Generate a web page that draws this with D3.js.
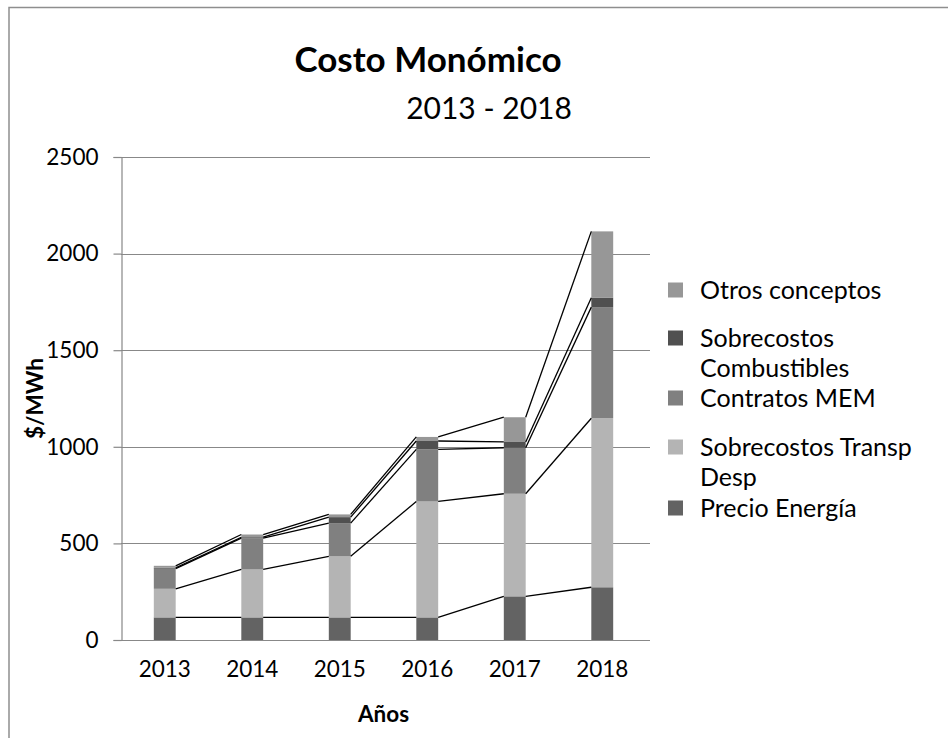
<!DOCTYPE html>
<html>
<head>
<meta charset="utf-8">
<script src="https://cdn.jsdelivr.net/npm/d3@7"></script>
<style>
  body { margin: 0; background: #fff; }
  svg { display: block; font-family: Lato, "Open Sans", sans-serif; }
</style>
</head>
<body>
<div id="chart"></div>
<script>
const YEARS = ["2013", "2014", "2015", "2016", "2017", "2018"];
const PRECIO_ENERGIA = [117, 117, 117, 117, 226, 273];
const SOBRECOSTOS_TRANSP = [148, 248, 316, 600, 531, 875];
const CONTRATOS_MEM = [104, 162, 172, 270, 238, 575];
const SOBRECOSTOS_COMB = [5, 5, 31, 43, 30, 48];
const OTROS = [10, 14, 14, 21, 128, 344];
const Y_TICKS = [0, 500, 1000, 1500, 2000, 2500];

// series bottom -> top
const SERIES = [
    { key: "precio", name: ["Precio Energía"], values: PRECIO_ENERGIA, color: "#636363" },
    { key: "transp", name: ["Sobrecostos Transp", "Desp"], values: SOBRECOSTOS_TRANSP, color: "#b4b4b4" },
    { key: "mem", name: ["Contratos MEM"], values: CONTRATOS_MEM, color: "#808080" },
    { key: "comb", name: ["Sobrecostos", "Combustibles"], values: SOBRECOSTOS_COMB, color: "#505050" },
    { key: "otros", name: ["Otros conceptos"], values: OTROS, color: "#979797" }
];

const W = 948, H = 738;
const PLOT = { left: 121, right: 646, top: 157, bottom: 640 };

const svg = d3.select("#chart").append("svg")
    .attr("width", W)
    .attr("height", H);

// outer chart frame
svg.append("rect")
    .attr("x", 9).attr("y", 7.5)
    .attr("width", 960).attr("height", 760)
    .attr("fill", "none")
    .attr("stroke", "#8e8e8e")
    .attr("stroke-width", 1.5);

const rows = YEARS.map((y, i) => {
    const r = { year: y };
    SERIES.forEach(s => r[s.key] = s.values[i]);
    return r;
});
const stack = d3.stack().keys(SERIES.map(s => s.key))(rows);

const x = d3.scaleBand()
    .domain(YEARS)
    .range([PLOT.left, PLOT.right])
    .paddingInner(0.75)
    .paddingOuter(0.375);

const y = d3.scaleLinear()
    .domain([0, 2500])
    .range([PLOT.bottom, PLOT.top]);

// gridlines
svg.append("g")
    .selectAll("line")
    .data(Y_TICKS.slice(1))
    .enter()
    .append("line")
    .attr("x1", PLOT.left).attr("x2", PLOT.right + 4)
    .attr("y1", d => Math.round(y(d)) + 0.5)
    .attr("y2", d => Math.round(y(d)) + 0.5)
    .attr("stroke", "#888")
    .attr("stroke-width", 1.2);

// y axis
const yAxis = svg.append("g")
    .attr("transform", "translate(" + (PLOT.left + 0.5) + ",0)")
    .call(d3.axisLeft(y).tickValues(Y_TICKS).tickFormat(d3.format("d")).tickSize(8).tickPadding(15));
yAxis.select(".domain").attr("stroke", "#888").attr("stroke-width", 1.2);
yAxis.selectAll(".tick line").attr("stroke", "#888").attr("stroke-width", 1.2);
yAxis.selectAll("text")
    .attr("font-size", "22.5px")
    .attr("font-family", "Lato")
    .attr("fill", "#000");

// x axis
const xAxis = svg.append("g")
    .attr("transform", "translate(0," + (PLOT.bottom + 0.5) + ")")
    .call(d3.axisBottom(x).tickSize(0).tickPadding(21));
xAxis.select(".domain").attr("d", "M" + PLOT.left + ",0H" + (PLOT.right + 4))
    .attr("stroke", "#888").attr("stroke-width", 1.2);
xAxis.selectAll("text")
    .attr("font-size", "22.5px")
    .attr("font-family", "Lato")
    .attr("fill", "#000");

// bars
svg.append("g")
    .selectAll("g")
    .data(stack)
    .enter()
    .append("g")
    .attr("fill", (d, i) => SERIES[i].color)
    .selectAll("rect")
    .data(d => d)
    .enter()
    .append("rect")
    .attr("x", d => x(d.data.year))
    .attr("width", x.bandwidth())
    .attr("y", d => y(d[1]))
    .attr("height", d => y(d[0]) - y(d[1]));

// series lines between bar tops
const segs = [];
stack.forEach(layer => {
    for (let i = 0; i < layer.length - 1; i++) {
        segs.push({
            x1: x(YEARS[i]) + x.bandwidth(), y1: y(layer[i][1]),
            x2: x(YEARS[i + 1]), y2: y(layer[i + 1][1])
        });
    }
});
svg.append("g")
    .selectAll("line")
    .data(segs)
    .enter()
    .append("line")
    .attr("x1", d => d.x1).attr("y1", d => d.y1)
    .attr("x2", d => d.x2).attr("y2", d => d.y2)
    .attr("stroke", "#000")
    .attr("stroke-width", 1.3);

// titles
svg.append("text")
    .attr("x", 428).attr("y", 72)
    .attr("text-anchor", "middle")
    .attr("font-size", "35px")
    .attr("font-weight", "bold")
    .text("Costo Monómico");
svg.append("text")
    .attr("x", 489).attr("y", 119)
    .attr("text-anchor", "middle")
    .attr("font-size", "30px")
    .text("2013 - 2018");

svg.append("text")
    .attr("x", 383.5).attr("y", 722)
    .attr("text-anchor", "middle")
    .attr("font-size", "22.5px")
    .attr("font-weight", "bold")
    .text("Años");

svg.append("text")
    .attr("transform", "translate(43," + ((PLOT.top + PLOT.bottom) / 2) + ") rotate(-90)")
    .attr("text-anchor", "middle")
    .attr("font-size", "22.5px")
    .attr("font-weight", "bold")
    .text("$/MWh");

// legend, top entry first
const LEGEND_Y = [290, 338, 398, 447, 508];
const legend = svg.append("g");
SERIES.slice().reverse().forEach((s, i) => {
    const g = legend.append("g").attr("transform", "translate(668," + LEGEND_Y[i] + ")");
    g.append("rect")
        .attr("x", 0).attr("y", -7.5)
        .attr("width", 15).attr("height", 15)
        .attr("fill", s.color);
    s.name.forEach((line, j) => {
        g.append("text")
            .attr("x", 32).attr("y", j * 30)
            .attr("dy", "0.36em")
            .attr("font-size", "25px")
            .text(line);
    });
});
</script>
</body>
</html>
